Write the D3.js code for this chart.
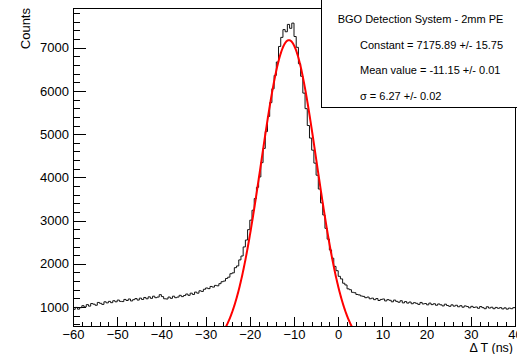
<!DOCTYPE html>
<html>
<head>
<meta charset="utf-8">
<style>
body { margin: 0; background: #fff; }
svg { font-family: "Liberation Sans", Arial, sans-serif; }
.axis text { font-size: 13px; fill: #000; }
.axis line { stroke: #000; shape-rendering: crispEdges; }
.stats text { font-size: 11px; fill: #000; }
</style>
<script src="https://d3js.org/d3.v7.min.js"></script>
</head>
<body>
<div id="chart"></div>
<script>
// histogram: 200 bins of 0.5 ns from -60 to 40
var binStart = -60, binWidth = 0.5;
var counts = [
  945, 990, 950, 985, 1030, 1000, 1055, 1020, 1080, 1065,
  1040, 1105, 1085, 1060, 1120, 1095, 1130, 1100, 1145, 1120,
  1160, 1130, 1125, 1175, 1150, 1185, 1140, 1170, 1195, 1160,
  1205, 1175, 1220, 1190, 1235, 1200, 1250, 1215, 1230, 1285,
  1240, 1190, 1185, 1230, 1200, 1250, 1215, 1230, 1270, 1240,
  1265, 1300, 1270, 1320, 1290, 1345, 1320, 1375, 1360, 1410,
  1440, 1425, 1475, 1460, 1500, 1490, 1540, 1585, 1600, 1660,
  1690, 1770, 1790, 1910, 1950, 2090, 2180, 2390, 2550, 2790,
  3010, 3240, 3510, 3770, 4010, 4340, 4670, 5060, 5410, 5730,
  6050, 6360, 6670, 7030, 7240, 7420, 7370, 7540, 7450, 7570,
  7260, 7010, 6630, 6340, 5950, 5590, 5200, 4910, 4630, 4330,
  4050, 3730, 3410, 3130, 2820, 2570, 2320, 2130, 1940, 1840,
  1710, 1650, 1550, 1510, 1420, 1400, 1340, 1330, 1290, 1280,
  1255, 1245, 1215, 1230, 1190, 1205, 1170, 1195, 1150, 1175,
  1185, 1140, 1170, 1155, 1120, 1160, 1130, 1110, 1145, 1095,
  1125, 1090, 1115, 1075, 1100, 1085, 1060, 1105, 1070, 1080,
  1050, 1090, 1055, 1075, 1040, 1070, 1050, 1025, 1065, 1035,
  1015, 1050, 1020, 1040, 1005, 1030, 995, 1025, 1010, 980,
  1015, 990, 1000, 970, 1010, 985, 960, 1005, 975, 995,
  960, 990, 970, 985, 955, 980, 950, 975, 960, 985
];

// gaussian fit parameters (from the stats box)
var fitConstant = 7175.89, fitMean = -11.15, fitSigma = 6.27;
var fitRange = [-30, 8];

var xTicks = [-60, -50, -40, -30, -20, -10, 0, 10, 20, 30, 40];
var yTicks = [1000, 2000, 3000, 4000, 5000, 6000, 7000];
var statsTitle = "BGO Detection System - 2mm PE";
var statsLines = [
  "Constant = 7175.89 +/- 15.75",
  "Mean value = -11.15 +/- 0.01",
  "\u03c3 = 6.27 +/- 0.02"
];

var width = 517, height = 354,
    margin = {top: 8, right: 2, bottom: 28, left: 73};
var w = width - margin.left - margin.right,
    h = height - margin.top - margin.bottom;

var svg = d3.select("#chart").append("svg")
  .attr("width", width)
  .attr("height", height);

var g = svg.append("g")
  .attr("transform", `translate(${margin.left},${margin.top})`);

var x = d3.scaleLinear().domain([-60, 40]).range([0, w]);
var y = d3.scaleLinear().domain([560, 7920]).range([h, 0]);

g.append("clipPath").attr("id", "plotclip")
  .append("rect").attr("width", w).attr("height", h);

// minor ticks
g.append("g").attr("class", "axis")
  .attr("transform", `translate(0,${h})`)
  .call(d3.axisBottom(x).tickValues(d3.range(-60, 41, 2)).tickSize(-4.5).tickFormat(""))
  .call(a => a.select(".domain").remove());
g.append("g").attr("class", "axis")
  .call(d3.axisLeft(y).tickValues(d3.range(600, 7901, 200)).tickSize(-6.5).tickFormat(""))
  .call(a => a.select(".domain").remove());

// major ticks
g.append("g").attr("class", "axis")
  .attr("transform", `translate(0,${h})`)
  .call(d3.axisBottom(x).tickValues(xTicks).tickSize(-9).tickPadding(4))
  .call(a => a.select(".domain").remove());
g.append("g").attr("class", "axis")
  .call(d3.axisLeft(y).tickValues(yTicks).tickSize(-13).tickPadding(4).tickFormat(d3.format("d")))
  .call(a => a.select(".domain").remove());

// histogram outline
var steps = counts.map((c, i) => [binStart + i * binWidth, c]);
steps.push([binStart + counts.length * binWidth, counts[counts.length - 1]]);
var line = d3.line()
  .x(d => x(d[0]))
  .y(d => y(d[1]))
  .curve(d3.curveStepAfter);

g.append("path")
  .datum(steps)
  .attr("clip-path", "url(#plotclip)")
  .attr("fill", "none")
  .attr("stroke", "#111")
  .attr("stroke-width", 1)
  .attr("d", line);

// fit curve
var fitPts = d3.range(fitRange[0], fitRange[1] + 0.001, 0.1).map(t =>
  [t, fitConstant * Math.exp(-0.5 * Math.pow((t - fitMean) / fitSigma, 2))]);
g.append("path")
  .datum(fitPts)
  .attr("clip-path", "url(#plotclip)")
  .attr("fill", "none")
  .attr("stroke", "#ff0000")
  .attr("stroke-width", 2)
  .attr("d", d3.line().x(d => x(d[0])).y(d => y(d[1])));

// frame
g.append("rect")
  .attr("width", w).attr("height", h)
  .attr("fill", "none").attr("stroke", "#000")
  .attr("shape-rendering", "crispEdges");

// axis titles
svg.append("text")
  .attr("transform", "translate(29.5,8) rotate(-90)")
  .attr("text-anchor", "end")
  .style("font-size", "13px")
  .text("Counts");
svg.append("text")
  .attr("x", 513).attr("y", 351.5)
  .attr("text-anchor", "end")
  .style("font-size", "12.5px")
  .text("\u0394 T (ns)");

// stats box
var stats = svg.append("g").attr("class", "stats");
stats.append("rect")
  .attr("x", 321.5).attr("y", -5)
  .attr("width", 210).attr("height", 112.5)
  .attr("fill", "#fff").attr("stroke", "#000")
  .attr("shape-rendering", "crispEdges");
stats.append("text")
  .attr("x", 420.5).attr("y", 22.5)
  .attr("text-anchor", "middle")
  .text(statsTitle);
stats.selectAll("text.line")
  .data(statsLines)
  .enter().append("text")
  .attr("class", "line")
  .attr("x", 360)
  .attr("y", (d, i) => 48.5 + i * 25.7)
  .text(d => d);
</script>
</body>
</html>
